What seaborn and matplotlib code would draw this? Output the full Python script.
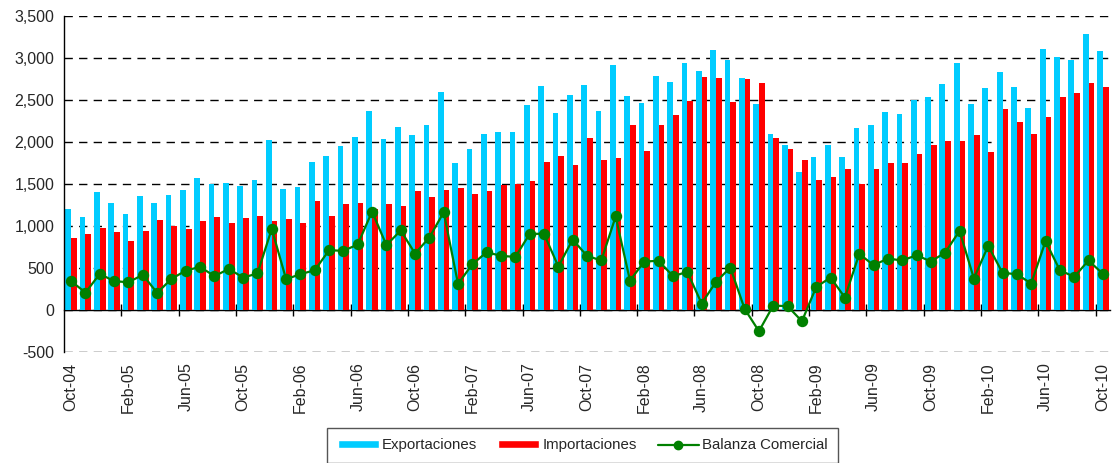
import matplotlib
matplotlib.use('Agg')
import matplotlib.pyplot as plt
from matplotlib.patches import Patch
from matplotlib.lines import Line2D
from matplotlib.ticker import FuncFormatter
import numpy as np
import pandas as pd
import seaborn as sns

# meses Oct-04 .. Oct-10
meses = pd.date_range('2004-10-01', periods=73, freq='MS').strftime('%b-%y').tolist()

exportaciones = [
    1195, 1105, 1400, 1270, 1145, 1350, 1265, 1360, 1425, 1565,
    1495, 1510, 1470, 1550, 2020, 1436, 1456, 1754, 1829, 1953,
    2052, 2366, 2028, 2175, 2076, 2195, 2589, 1746, 1913, 2096,
    2120, 2120, 2438, 2669, 2338, 2553, 2680, 2362, 2911, 2541,
    2462, 2780, 2712, 2935, 2840, 3094, 2975, 2760, 2446, 2092,
    1957, 1639, 1821, 1957, 1817, 2160, 2199, 2358, 2327, 2498,
    2529, 2692, 2943, 2446, 2641, 2836, 2657, 2402, 3106, 3007,
    2971, 3281, 3082,
]

importaciones = [
    858, 905, 975, 930, 815, 935, 1066, 995, 960, 1055,
    1098, 1027, 1090, 1120, 1060, 1076, 1034, 1290, 1121, 1258,
    1275, 1197, 1257, 1233, 1408, 1338, 1430, 1444, 1372, 1410,
    1480, 1494, 1537, 1764, 1827, 1720, 2042, 1778, 1802, 2195,
    1887, 2199, 2315, 2484, 2768, 2764, 2474, 2752, 2706, 2042,
    1917, 1778, 1546, 1575, 1677, 1496, 1672, 1752, 1742, 1850,
    1957, 2014, 2008, 2076, 1879, 2392, 2233, 2090, 2297, 2537,
    2583, 2696, 2657,
]

balanza = [
    338, 203, 426, 338, 326, 414, 199, 366, 465, 509,
    398, 485, 382, 430, 962, 362, 422, 469, 708, 700,
    776, 1169, 768, 943, 668, 859, 1161, 306, 541, 684,
    640, 628, 903, 903, 513, 835, 640, 585, 1110, 346,
    573, 581, 398, 449, 72, 330, 501, 8, -258, 48,
    40, -139, 270, 382, 143, 664, 529, 608, 585, 648,
    573, 680, 939, 370, 760, 437, 422, 310, 815, 469,
    390, 585, 426,
]

colores = {'Exportaciones': '#00CCFF', 'Importaciones': '#FF0000'}
verde = '#008000'

df = pd.DataFrame({'Mes': meses, 'Exportaciones': exportaciones,
                   'Importaciones': importaciones, 'Balanza Comercial': balanza})
barras = df.melt(id_vars='Mes', value_vars=['Exportaciones', 'Importaciones'],
                 var_name='Serie', value_name='Valor')

sns.set_style('white')
plt.rcParams['font.family'] = ['Liberation Sans', 'DejaVu Sans']
plt.rcParams['lines.dashed_pattern'] = [6, 4.5]

fig = plt.figure(figsize=(11.15, 4.63), dpi=100)
ax = fig.add_axes([64 / 1115, 1 - 351.5 / 463, (1110 - 64) / 1115, (351.5 - 16) / 463])

sns.barplot(data=barras, x='Mes', y='Valor', hue='Serie', palette=colores,
            width=0.8, saturation=1, linewidth=0, legend=False, ax=ax, zorder=2)
sns.pointplot(data=df, x='Mes', y='Balanza Comercial', color=verde, markers='o',
              markersize=7, linewidth=1.6, errorbar=None, ax=ax)

ax.set_xlim(-0.5, 72.5)
ax.set_ylim(-500, 3500)
niveles = list(range(-500, 3501, 500))
ax.set_yticks(niveles)
ax.yaxis.set_major_formatter(FuncFormatter(lambda v, p: f'{v:,.0f}'))

# lineas de guia discontinuas
ax.hlines(niveles, -0.5, 72.5, colors='black', linestyles='--', linewidth=1, zorder=1)
ax.set_xlim(-0.5, 72.5)

ax.set_xticks(range(0, 73, 4))
ax.set_xticklabels(meses[::4], rotation=90)
ax.tick_params(axis='x', length=0, pad=8, labelsize=11.5)
ax.tick_params(axis='y', direction='out', length=4, width=1, color='black', labelsize=11.5, pad=3)
ax.set_xlabel('')
ax.set_ylabel('')

for s in ['top', 'right', 'bottom']:
    ax.spines[s].set_visible(False)
ax.spines['left'].set_color('black')
ax.spines['left'].set_linewidth(1)

# eje en cero con marcas cada 4 meses
sec = ax.secondary_xaxis(500 / 4000)
sec.set_xticks(np.arange(3.5, 72, 4))
sec.set_xticklabels([])
sec.tick_params(direction='inout', length=8, width=1, color='black')
for s in ['top', 'bottom']:
    sec.spines[s].set_color('black')
    sec.spines[s].set_linewidth(1)

handles = [
    Patch(facecolor=colores['Exportaciones'], label='Exportaciones'),
    Patch(facecolor=colores['Importaciones'], label='Importaciones'),
    Line2D([0], [0], color=verde, marker='o', markersize=6, lw=1.6, label='Balanza Comercial'),
]
leg = fig.legend(handles=handles, loc='upper center', bbox_to_anchor=(582.5 / 1115, 1 - 427.5 / 463),
                 ncol=3, frameon=True, fancybox=False, edgecolor='#555555', fontsize=10.8,
                 handlelength=2.75, handleheight=0.5, handletextpad=0.2, columnspacing=1.4,
                 borderpad=0.72, borderaxespad=0, framealpha=1)
leg.get_frame().set_linewidth(1)

fig.savefig('out.png', dpi=100)
